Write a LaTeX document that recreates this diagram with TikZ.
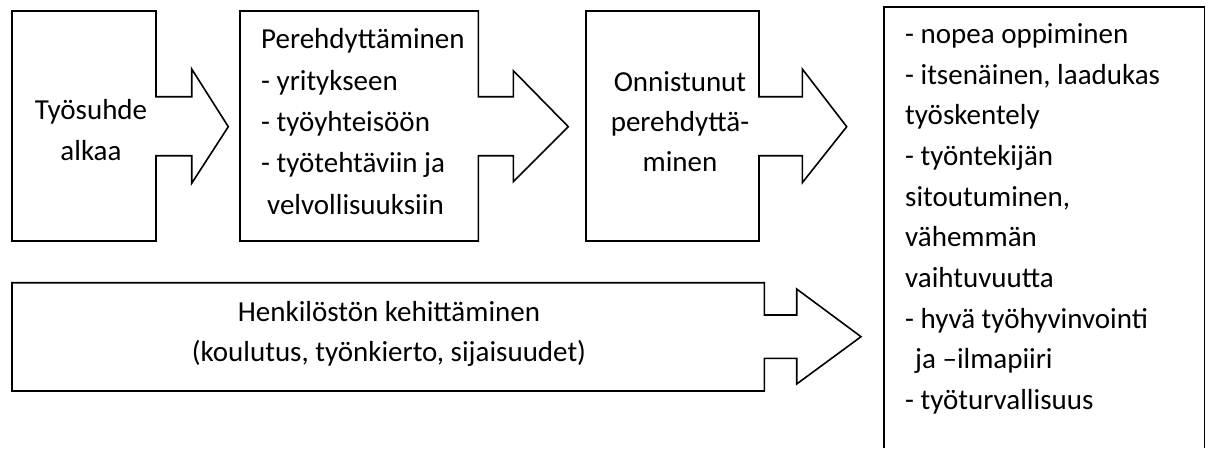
\documentclass[tikz,border=0pt]{standalone}
\usepackage{fontspec}
\setmainfont{Carlito}
\begin{document}
\begin{tikzpicture}[x=1pt,y=-1pt,
  outline/.style={draw=black,line width=1.6pt,line join=miter},
  txt/.style={inner sep=0pt,font=\fontsize{29}{41}\selectfont,text=black},
  ltxt/.style={txt,align=left,anchor=base west},
  ctxt/.style={txt,align=center,anchor=base}]
\useasboundingbox (0,0) rectangle (1211,448);

% block arrows: box body, stem and head
\draw[outline] (12,11) -- (156,11) -- (156,96.7) -- (191.7,96.7) -- (191.7,69)
  -- (228.3,126.7) -- (191.7,183.3) -- (191.7,155.7) -- (156,155.7)
  -- (156,241) -- (12,241) -- cycle;
\draw[outline] (240,11) -- (478.3,11) -- (478.3,96.7) -- (513.3,96.7) -- (513.3,70.7)
  -- (568.3,126.7) -- (513.3,181.7) -- (513.3,155.7) -- (478.3,155.7)
  -- (478.3,241) -- (240,241) -- cycle;
\draw[outline] (586,11) -- (759,11) -- (759,96.7) -- (802.3,96.7) -- (802.3,69)
  -- (846.7,126.7) -- (802.3,182.7) -- (802.3,155.7) -- (759,155.7)
  -- (759,241) -- (586,241) -- cycle;
\draw[outline] (12,282.7) -- (764.3,282.7) -- (764.3,315) -- (796.7,315) -- (796.7,289)
  -- (861,336.7) -- (796.7,384) -- (796.7,358.3) -- (764.3,358.3)
  -- (764.3,391) -- (12,391) -- cycle;
% result box, open at the bottom edge
\draw[outline] (884,448) -- (884,6.7) -- (1204.3,6.7) -- (1204.3,448);

% multi-line texts are placed by the baseline of their last line
\node[ctxt] (start) at (91,160) {Työsuhde\\alkaa};
\node[ltxt,font=\fontsize{29}{41.3}\selectfont] (intro) at (261,214) {Perehdyttäminen\\- yritykseen\\- työyhteisöön\\- työtehtäviin ja\\\hspace*{6pt}velvollisuuksiin};
\node[ctxt,font=\fontsize{29}{40}\selectfont] (success) at (680,171.7) {Onnistunut\\perehdyttä-\\minen};
\node[ctxt,font=\fontsize{29}{40}\selectfont] (staff) at (389,361.7) {Henkilöstön kehittäminen\\(koulutus, työnkierto, sijaisuudet)};
\node[ltxt,font=\fontsize{29}{40.7}\selectfont] (results) at (905,409.6) {- nopea oppiminen\\- itsenäinen, laadukas\\työskentely\\- työntekijän\\sitoutuminen,\\vähemmän\\vaihtuvuutta\\- hyvä työhyvinvointi\\\hspace*{10pt}ja –ilmapiiri\\- työturvallisuus};
\end{tikzpicture}
\end{document}
